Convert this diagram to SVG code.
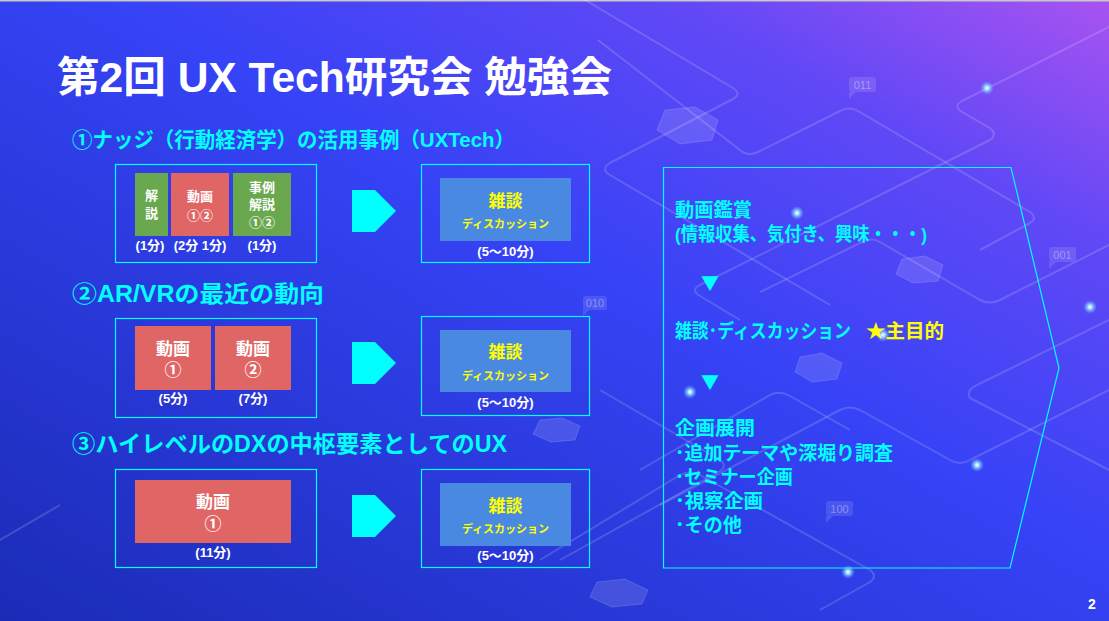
<svg xmlns="http://www.w3.org/2000/svg" width="1109" height="621" viewBox="0 0 1109 621">
<defs>
<linearGradient id="bg" x1="0" y1="1" x2="1" y2="0">
<stop offset="0" stop-color="#1a2cb6"/>
<stop offset="0.55" stop-color="#3643f6"/>
<stop offset="0.8" stop-color="#6048f6"/>
<stop offset="1" stop-color="#a853f1"/>
</linearGradient>
<radialGradient id="glow">
<stop offset="0" stop-color="#ffffff"/>
<stop offset="0.25" stop-color="#aee6ff"/>
<stop offset="1" stop-color="#4fb0ff" stop-opacity="0"/>
</radialGradient>
<style>
text{font-family:"Liberation Sans","Noto Sans CJK JP",sans-serif;font-weight:bold}
.deco{fill:none;stroke:#ffffff;stroke-opacity:0.16;stroke-width:2;stroke-linejoin:round}
.hex{fill:#ffffff;fill-opacity:0.13;stroke:#ffffff;stroke-opacity:0.15}
.tag{fill:#ffffff;fill-opacity:0.12}
.tagt{font-size:11px;font-weight:normal;fill:#ffffff;fill-opacity:0.35}
.frame{fill:none;stroke:#00ffff;stroke-width:1.2}
.head{fill:#00ffff}
.red{fill:#e06666}
.green{fill:#6aa84f}
.blue{fill:#4a89e2}
.w13{font-size:13px;fill:#ffffff;text-anchor:middle}
.w17{font-size:17px;fill:#ffffff;text-anchor:middle}
.y17{font-size:17px;fill:#ffff00;text-anchor:middle}
.y11{font-size:11px;fill:#ffff00;text-anchor:middle}
.time{font-size:13px;fill:#ffffff;text-anchor:middle}
.arrow{fill:#00ffff}
.pt{font-size:19px;fill:#00ffff}
.tri{font-family:"Noto Sans CJK JP",sans-serif;font-size:18px;fill:#00ffff}
</style>
</defs>
<rect width="1109" height="621" fill="url(#bg)"/>
<rect width="1109" height="1.5" fill="#c8c8c8"/>
<g id="background">
<path class="deco" d="M560,-15 L733,88 Q742,94 733,99 L610,163 Q600,169 610,175 L830,305"/>
<path class="deco" d="M598,40 L740,150 Q748,157 758,152 L840,111 Q849,106 858,111 L1030,212 Q1038,218 1030,223 L980,250"/>
<path class="deco" d="M1109,27 L962,101 Q953,106 962,112 L990,128 Q998,134 990,140 L860,205 L700,285 Q690,290 700,296 L740,320"/>
<path class="deco" d="M1109,245 L1000,300 Q990,305 980,300 L880,242 Q872,237 862,242 L760,292"/>
<path class="deco" d="M1109,320 L975,386 Q966,391 970,398 L1109,470"/>
<path class="deco" d="M660,505 L840,410 Q850,405 860,410 L950,460 Q960,466 970,460 L1109,390"/>
<path class="deco" d="M540,560 L680,475 Q690,470 700,475 L870,570 Q878,576 870,582 L820,610"/>
<path class="deco" d="M600,390 L720,460 Q728,466 720,471 L560,560"/>
<path class="deco" d="M640,470 L770,395 Q780,390 790,396 L850,430"/>
<path class="deco" d="M0,540 L60,505"/>
<polygon class="hex" points="665,110 695,107 718,120 712,140 680,144 657,130"/>
<polygon class="hex" points="902,259 925,256 943,265 938,281 913,283 896,274"/>
<polygon class="hex" points="800,357 822,353 842,363 837,379 812,382 795,372"/>
<polygon class="hex" points="540,420 562,418 580,426 575,440 551,442 533,434"/>
<polygon class="hex" points="597,582 625,579 648,590 642,604 612,607 590,597"/>
<rect class="tag" x="849" y="77" width="27" height="15" rx="3"/><polygon class="tag" points="849,92 849,99 856,92"/>
<text class="tagt" x="862.5" y="89" text-anchor="middle">011</text>
<rect class="tag" x="1049" y="247" width="27" height="15" rx="3"/><polygon class="tag" points="1049,262 1049,269 1056,262"/>
<text class="tagt" x="1062.5" y="259" text-anchor="middle">001</text>
<rect class="tag" x="583" y="296" width="24" height="14" rx="3"/><polygon class="tag" points="583,310 583,316 589,310"/>
<text class="tagt" x="595" y="307" text-anchor="middle">010</text>
<rect class="tag" x="826" y="501" width="27" height="15" rx="3"/><polygon class="tag" points="826,516 826,523 833,516"/>
<text class="tagt" x="839.5" y="513" text-anchor="middle">100</text>
<circle cx="987" cy="88" r="7" fill="url(#glow)"/>
<circle cx="797" cy="213" r="7" fill="url(#glow)"/>
<circle cx="1090" cy="307" r="7" fill="url(#glow)"/>
<circle cx="883" cy="335" r="7" fill="url(#glow)"/>
<circle cx="690" cy="392" r="7" fill="url(#glow)"/>
<circle cx="977" cy="465" r="7" fill="url(#glow)"/>
<circle cx="848" cy="572" r="7" fill="url(#glow)"/>
</g>
<g id="title">
<text x="57" y="92" font-size="42" fill="#ffffff" textLength="555" lengthAdjust="spacingAndGlyphs">第2回 UX Tech研究会 勉強会</text>
</g>
<g id="heading1"><text class="head" x="72" y="147" font-size="21" textLength="443" lengthAdjust="spacingAndGlyphs">①ナッジ（行動経済学）の活用事例（UXTech）</text></g>
<g id="heading2"><text class="head" x="72" y="302" font-size="23" textLength="252" lengthAdjust="spacingAndGlyphs">②AR/VRの最近の動向</text></g>
<g id="heading3"><text class="head" x="72" y="452" font-size="23" textLength="435" lengthAdjust="spacingAndGlyphs">③ハイレベルのDXの中枢要素としてのUX</text></g>

<g id="row1-left">
<rect class="frame" x="115.5" y="164.5" width="201" height="98"/>
<rect class="green" x="135" y="173" width="33" height="63"/>
<text class="w13" x="151.5" y="200">解</text>
<text class="w13" x="151.5" y="218">説</text>
<rect class="red" x="171" y="173" width="58" height="63"/>
<text class="w13" x="200" y="201">動画</text>
<text class="w13" x="200" y="220">①②</text>
<rect class="green" x="233" y="173" width="58" height="63"/>
<text class="w13" x="262" y="192">事例</text>
<text class="w13" x="262" y="209">解説</text>
<text class="w13" x="262" y="227">①②</text>
<text class="time" x="150" y="250">(1分)</text>
<text class="time" x="200" y="250">(2分 1分)</text>
<text class="time" x="262" y="250">(1分)</text>
</g>
<g id="row1-right">
<rect class="frame" x="421.5" y="164.5" width="168" height="98"/>
<rect class="blue" x="440" y="178" width="131" height="63"/>
<text class="y17" x="505.5" y="207">雑談</text>
<text class="y11" x="505.5" y="228">ディスカッション</text>
<text class="time" x="505.5" y="256">(5〜10分)</text>
</g>

<g id="row2-left">
<rect class="frame" x="115.5" y="318.5" width="201" height="99"/>
<rect class="red" x="135" y="326" width="76" height="64"/>
<text class="w17" x="173" y="355">動画</text>
<text class="w17" x="173" y="376">①</text>
<rect class="red" x="215" y="326" width="76" height="64"/>
<text class="w17" x="253" y="355">動画</text>
<text class="w17" x="253" y="376">②</text>
<text class="time" x="173" y="403">(5分)</text>
<text class="time" x="253" y="403">(7分)</text>
</g>
<g id="row2-right">
<rect class="frame" x="421.5" y="316.5" width="168" height="99"/>
<rect class="blue" x="440" y="330" width="131" height="62"/>
<text class="y17" x="505.5" y="358">雑談</text>
<text class="y11" x="505.5" y="380">ディスカッション</text>
<text class="time" x="505.5" y="407">(5〜10分)</text>
</g>

<g id="row3-left">
<rect class="frame" x="115.5" y="469.5" width="201" height="98"/>
<rect class="red" x="135" y="480" width="156" height="63"/>
<text class="w17" x="213" y="508">動画</text>
<text class="w17" x="213" y="530">①</text>
<text class="time" x="213" y="557">(11分)</text>
</g>
<g id="row3-right">
<rect class="frame" x="421.5" y="469.5" width="168" height="98"/>
<rect class="blue" x="440" y="483" width="131" height="63"/>
<text class="y17" x="505.5" y="512">雑談</text>
<text class="y11" x="505.5" y="533">ディスカッション</text>
<text class="time" x="505.5" y="560">(5〜10分)</text>
</g>

<g id="connectors">
<polygon class="arrow" points="352,190 375,190 396,211 375,232 352,232"/>
<polygon class="arrow" points="352,342 375,342 396,363 375,384 352,384"/>
<polygon class="arrow" points="352,495 375,495 396,516 375,537 352,537"/>
</g>

<g id="summary">
<polygon class="frame" points="663.5,167.5 1011,167.5 1059,368 1010,568 663.5,568"/>
<text class="pt" x="675" y="217" textLength="77" lengthAdjust="spacingAndGlyphs">動画鑑賞</text>
<text class="pt" x="675" y="241" textLength="252" lengthAdjust="spacingAndGlyphs">(情報収集、気付き、興味・・・)</text>
<text class="tri" x="701" y="290">▼</text>
<text class="pt" x="675" y="338" textLength="176" lengthAdjust="spacingAndGlyphs">雑談･ディスカッション</text>
<text class="pt" x="866" y="338" textLength="78" lengthAdjust="spacingAndGlyphs" style="fill:#ffff00">★主目的</text>
<text class="tri" x="701" y="389">▼</text>
<text class="pt" x="675" y="435" textLength="80" lengthAdjust="spacingAndGlyphs">企画展開</text>
<text class="pt" x="675" y="460" textLength="218" lengthAdjust="spacingAndGlyphs">･追加テーマや深堀り調査</text>
<text class="pt" x="675" y="484" textLength="118" lengthAdjust="spacingAndGlyphs">･セミナー企画</text>
<text class="pt" x="675" y="508" textLength="88" lengthAdjust="spacingAndGlyphs">･視察企画</text>
<text class="pt" x="675" y="532" textLength="67" lengthAdjust="spacingAndGlyphs">･その他</text>
</g>
<g id="page"><text x="1092" y="609" font-size="14" fill="#ffffff" text-anchor="middle" font-weight="normal">2</text></g>
</svg>
